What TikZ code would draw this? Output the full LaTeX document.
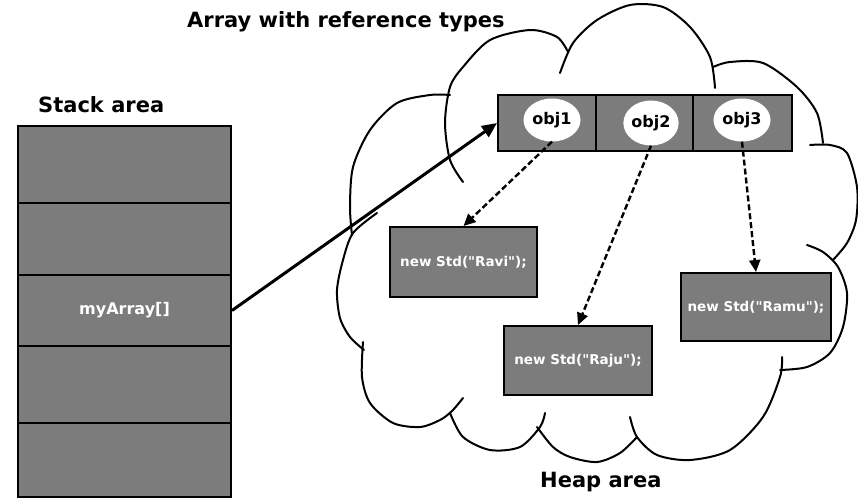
\documentclass[tikz,border=0pt]{standalone}
\usepackage{fontspec}
\setmainfont{DejaVu Sans}[Ligatures=TeXOff]
\usetikzlibrary{arrows.meta,shapes.geometric}
\definecolor{cellgray}{RGB}{124,124,124}
\begin{document}
\begin{tikzpicture}[x=1pt,y=-1pt,
  cloudline/.style={line width=2pt,black,line cap=round},
  stackcell/.style={draw=black,line width=2pt,fill=cellgray,minimum width=213pt,inner sep=0pt,text=white,font=\bfseries\fontsize{16}{18}\selectfont},
  arrcell/.style={draw=black,line width=2pt,fill=cellgray,minimum height=56pt,inner sep=0pt},
  objell/.style={ellipse,fill=white,minimum width=57pt,minimum height=43pt,inner sep=0pt,font=\bfseries\fontsize{16}{18}\selectfont},
  objbox/.style={draw=black,line width=2pt,fill=cellgray,text=white,inner sep=0pt,font=\bfseries\fontsize{13.5}{16}\selectfont},
  areatitle/.style={anchor=base west,inner sep=0pt,font=\bfseries\fontsize{21}{24}\selectfont},
  refarrow/.style={line width=3pt,-{Triangle[length=15pt,width=13pt]}},
  ptrarrow/.style={line width=2.4pt,dash pattern=on 6pt off 3pt,-{Triangle[length=12pt,width=11pt]}}
]
\useasboundingbox (0,0) rectangle (858,500);

% cloud (heap)
\draw[cloudline] plot[smooth] coordinates {(450,95) (430,95) (397,103) (370,130) (353,167) (350,207) (352,235)};
\draw[cloudline] plot[smooth] coordinates {(377,213) (353,233) (343,260) (337,290) (340,318) (350,337) (364,350)};
\draw[cloudline] plot[smooth] coordinates {(363,342) (362,377) (370,403) (393,423) (420,427) (440,420) (452,411) (463,398)};
\draw[cloudline] plot[smooth] coordinates {(450,413) (463,437) (490,450) (520,447) (540,427) (545,413)};
\draw[cloudline] plot[smooth] coordinates {(537,427) (553,447) (570,457) (597,462) (620,453) (637,437)};
\draw[cloudline] plot[smooth] coordinates {(630,417) (637,437) (657,455) (690,460) (730,450) (763,417) (780,377) (782,357)};
\draw[cloudline] plot[smooth] coordinates {(807,245) (823,252) (838,267) (847,293) (843,327) (830,353) (807,367) (780,370)};
\draw[cloudline] plot[smooth] coordinates {(810,145) (830,145) (847,153) (857,187) (856,220) (847,243) (833,260)};
\draw[cloudline] plot[smooth] coordinates {(713,67) (730,62) (763,63) (797,87) (817,113) (823,143)};
\draw[cloudline] plot[smooth] coordinates {(560,73) (573,43) (597,20) (630,5) (663,7) (690,27) (710,57) (715,88)};
\draw[cloudline] plot[smooth] coordinates {(463,182) (450,160) (445,123) (450,87) (463,67) (490,40) (530,30) (557,37) (568,52)};

% labels
\node[areatitle] (title) at (187,28) {Array with reference types};
\node[areatitle] (stacklbl) at (38,112) {Stack area};
\node[areatitle] (heaplbl) at (540,487) {Heap area};

% stack
\node[stackcell,minimum height=77pt] (s1) at (124.5,164.5) {};
\node[stackcell,minimum height=72pt] (s2) at (124.5,239) {};
\node[stackcell,minimum height=71pt] (s3) at (124.5,310.5) {myArray[]\hspace{10pt}};
\node[stackcell,minimum height=77pt] (s4) at (124.5,384.5) {};
\node[stackcell,minimum height=74pt] (s5) at (124.5,460) {};

% array
\node[arrcell,minimum width=98pt] (c1) at (547,123) {};
\node[arrcell,minimum width=97pt] (c2) at (644.5,123) {};
\node[arrcell,minimum width=99pt] (c3) at (742.5,123) {};
\node[objell] (o1) at (552,120) {obj1};
\node[objell,minimum width=55pt,minimum height=45pt] (o2) at (651,123) {obj2};
\node[objell] (o3) at (742,120) {obj3};

% objects
\node[objbox,minimum width=147pt,minimum height=70pt] (ravi) at (463.5,262) {new Std("Ravi");};
\node[objbox,minimum width=148pt,minimum height=69pt] (raju) at (578,360.5) {new Std("Raju");};
\node[objbox,minimum width=150pt,minimum height=68pt] (ramu) at (756,307) {new Std("Ramu");};

% connectors
\draw[refarrow] (s3.east) -- (c1.west);
\draw[ptrarrow] (o1.south) -- (ravi.north);
\draw[ptrarrow] (o2.south) -- (raju.north);
\draw[ptrarrow] (o3.south) -- (ramu.north);
\end{tikzpicture}
\end{document}
